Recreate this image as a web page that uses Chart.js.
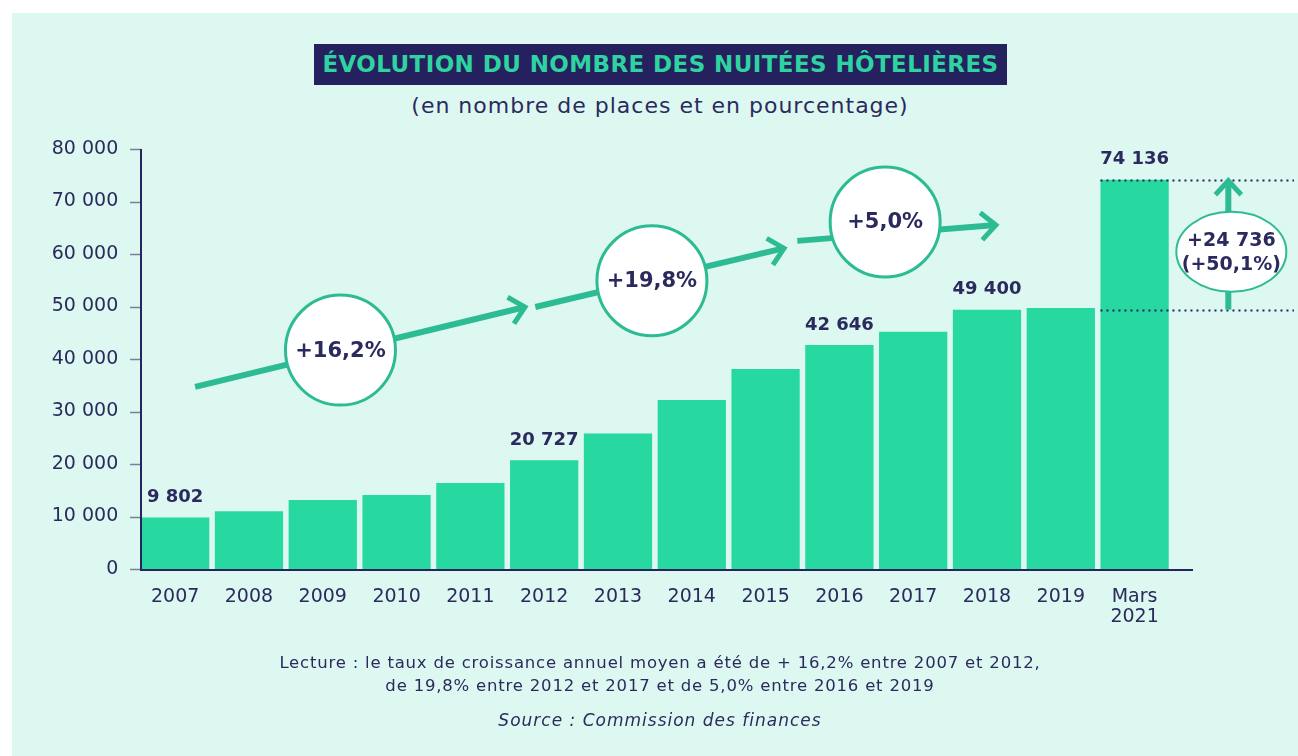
<!DOCTYPE html>
<html lang="fr">
<head>
<meta charset="utf-8">
<script src="https://cdn.jsdelivr.net/npm/chart.js@4.4.1/dist/chart.umd.min.js"></script>
<style>
  html, body { margin: 0; padding: 0; background: #ffffff; }
  body { width: 1298px; height: 756px; position: relative; overflow: hidden; font-family: "DejaVu Sans", sans-serif; color: #2b2a5e; }
  #bg { position: absolute; left: 12px; top: 13px; width: 1286px; height: 743px; background: #ddf8f0; }
  #chart { position: absolute; left: 0; top: 0; }
  .center { position: absolute; left: 0; width: 1320px; text-align: center; white-space: nowrap; }
  #title { position: absolute; left: 314px; top: 44px; width: 693px; height: 41px; line-height: 41px; background: #25215f;
           color: #2ed3a0; font-weight: bold; font-size: 23px; text-align: center; letter-spacing: 0.4px; }
  #subtitle { top: 93px; font-size: 22px; line-height: 26px; letter-spacing: 1px; }
  #note { top: 651px; font-size: 16.5px; line-height: 23px; letter-spacing: 0.8px; }
  #source { top: 709px; font-size: 17px; line-height: 22px; font-style: italic; letter-spacing: 1px; }
</style>
</head>
<body>
<div id="bg"></div>
<div id="title">ÉVOLUTION DU NOMBRE DES NUITÉES HÔTELIÈRES</div>
<div id="subtitle" class="center">(en nombre de places et en pourcentage)</div>
<canvas id="chart" width="1298" height="756"></canvas>
<div id="note" class="center">Lecture : le taux de croissance annuel moyen a été de + 16,2% entre 2007 et 2012,<br>de 19,8% entre 2012 et 2017 et de 5,0% entre 2016 et 2019</div>
<div id="source" class="center">Source : Commission des finances</div>
<script>
// data
const categories = ['2007', '2008', '2009', '2010', '2011', '2012', '2013', '2014', '2015', '2016', '2017', '2018', '2019', ['Mars', '2021']];
const nuitees = [9802, 11000, 13150, 14100, 16400, 20727, 25800, 32200, 38100, 42646, 45200, 49400, 49700, 74136];
const valueLabels = ['9 802', '', '', '', '', '20 727', '', '', '', '42 646', '', '49 400', '', '74 136'];
const yTickLabels = ['0', '10 000', '20 000', '30 000', '40 000', '50 000', '60 000', '70 000', '80 000'];
const growthLabels = ['+16,2%', '+19,8%', '+5,0%'];
const jumpLabels = ['+24 736', '(+50,1%)'];
const jumpFrom = 49400;
const jumpTo = 74136;

// annotation placement, in category index / value units
const trendArrows = [
    { from: [0.27, 34700], to: [4.74, 49900], circle: [2.24, 41700] },
    { from: [4.88, 49900], to: [8.25, 61100], circle: [6.46, 54900] },
    { from: [8.43, 62500], to: [11.12, 65500], circle: [9.62, 66100] }
];

const NAVY = '#2b2a5e';
const BAR = '#27d9a1';
const GREEN = '#2dbb93';
const FONT = '"DejaVu Sans", sans-serif';

function drawArrowHead(ctx, x1, y1, x2, y2, len) {
    const a = Math.atan2(y2 - y1, x2 - x1);
    ctx.beginPath();
    ctx.moveTo(x2 - len * Math.cos(a - 0.75), y2 - len * Math.sin(a - 0.75));
    ctx.lineTo(x2, y2);
    ctx.lineTo(x2 - len * Math.cos(a + 0.75), y2 - len * Math.sin(a + 0.75));
    ctx.stroke();
}

function drawShaft(ctx, x1, y1, x2, y2) {
    const a = Math.atan2(y2 - y1, x2 - x1);
    ctx.beginPath();
    ctx.moveTo(x1, y1);
    ctx.lineTo(x2 - 3 * Math.cos(a), y2 - 3 * Math.sin(a));
    ctx.stroke();
}

const decorPlugin = {
    id: 'decor',
    afterDatasetsDraw(chart) {
        const ctx = chart.ctx;
        const xs = chart.scales.x;
        const ys = chart.scales.y;
        const meta = chart.getDatasetMeta(0);
        const axisX = 141;
        const y0 = ys.getPixelForValue(0);

        ctx.save();
        // y tick marks
        ctx.strokeStyle = '#7b7e9e';
        ctx.lineWidth = 1.5;
        ys.ticks.forEach(t => {
            const y = Math.round(ys.getPixelForValue(t.value)) + 0.5;
            ctx.beginPath();
            ctx.moveTo(130, y);
            ctx.lineTo(axisX, y);
            ctx.stroke();
        });
        // axes
        ctx.strokeStyle = '#26235f';
        ctx.lineWidth = 2;
        ctx.beginPath();
        ctx.moveTo(axisX, ys.getPixelForValue(80000));
        ctx.lineTo(axisX, y0 + 1);
        ctx.lineTo(1193, y0 + 1);
        ctx.stroke();

        // value labels above some bars
        ctx.fillStyle = NAVY;
        ctx.font = 'bold 18px ' + FONT;
        ctx.textAlign = 'center';
        ctx.textBaseline = 'middle';
        meta.data.forEach((bar, i) => {
            if (valueLabels[i]) ctx.fillText(valueLabels[i], bar.x, bar.y - 20);
        });

        // trend arrows with circles
        ctx.strokeStyle = GREEN;
        ctx.lineCap = 'butt';
        ctx.lineJoin = 'miter';
        trendArrows.forEach((a, i) => {
            const x1 = xs.getPixelForValue(a.from[0]), y1 = ys.getPixelForValue(a.from[1]);
            const x2 = xs.getPixelForValue(a.to[0]), y2 = ys.getPixelForValue(a.to[1]);
            ctx.lineWidth = 6;
            drawShaft(ctx, x1, y1, x2, y2);
            ctx.lineWidth = 5;
            drawArrowHead(ctx, x1, y1, x2, y2, 20);
            const cx = xs.getPixelForValue(a.circle[0]), cy = ys.getPixelForValue(a.circle[1]);
            ctx.beginPath();
            ctx.ellipse(cx, cy, 55, 55, 0, 0, Math.PI * 2);
            ctx.fillStyle = '#ffffff';
            ctx.fill();
            ctx.lineWidth = 3;
            ctx.stroke();
            ctx.fillStyle = NAVY;
            ctx.font = 'bold 21px ' + FONT;
            ctx.fillText(growthLabels[i], cx, cy + 1);
        });

        // jump between 2019 and Mars 2021
        const last = meta.data[meta.data.length - 1];
        const left = last.x - last.width / 2;
        const yTop = ys.getPixelForValue(jumpTo);
        const yBot = ys.getPixelForValue(jumpFrom);
        ctx.strokeStyle = '#25225c';
        ctx.lineWidth = 2;
        ctx.setLineDash([2, 4]);
        [yTop, yBot].forEach(y => {
            ctx.beginPath();
            ctx.moveTo(left, Math.round(y) + 0.5);
            ctx.lineTo(1294, Math.round(y) + 0.5);
            ctx.stroke();
        });
        ctx.setLineDash([]);
        const ax = xs.getPixelForValue(14.27);
        ctx.strokeStyle = GREEN;
        ctx.lineWidth = 6;
        drawShaft(ctx, ax, yBot, ax, yTop + 1);
        ctx.lineWidth = 5;
        drawArrowHead(ctx, ax, yBot, ax, yTop + 1, 19);
        const ey = (yTop + yBot) / 2 + 7;
        ctx.beginPath();
        ctx.ellipse(ax + 3, ey, 55, 40, 0, 0, Math.PI * 2);
        ctx.fillStyle = '#ffffff';
        ctx.fill();
        ctx.lineWidth = 2;
        ctx.stroke();
        ctx.fillStyle = NAVY;
        ctx.font = 'bold 19px ' + FONT;
        ctx.fillText(jumpLabels[0], ax + 3, ey - 11);
        ctx.fillText(jumpLabels[1], ax + 3, ey + 13);
        ctx.restore();
    }
};

new Chart(document.getElementById('chart'), {
    type: 'bar',
    data: {
        labels: categories,
        datasets: [{
            label: 'Nuitées',
            data: nuitees,
            backgroundColor: BAR,
            barPercentage: 0.925,
            categoryPercentage: 1
        }]
    },
    options: {
        responsive: false,
        devicePixelRatio: 1,
        animation: false,
        layout: { padding: { left: 0, top: 149, right: 126.5, bottom: 0 } },
        plugins: { legend: { display: false }, tooltip: { enabled: false } },
        scales: {
            x: {
                grid: { display: false, drawTicks: false },
                border: { display: false },
                ticks: { color: NAVY, font: { family: FONT, size: 19, lineHeight: 1.05 }, padding: 18, maxRotation: 0, autoSkip: false },
                afterFit(scale) { scale.height = 187; }
            },
            y: {
                min: 0,
                max: 80000,
                grid: { display: false, drawTicks: false },
                border: { display: false },
                ticks: {
                    stepSize: 10000,
                    color: NAVY,
                    font: { family: FONT, size: 19 },
                    padding: 20,
                    callback: (v, i) => yTickLabels[i]
                },
                afterFit(scale) { scale.width = 138.25; }
            }
        }
    },
    plugins: [decorPlugin]
});
</script>
</body>
</html>
